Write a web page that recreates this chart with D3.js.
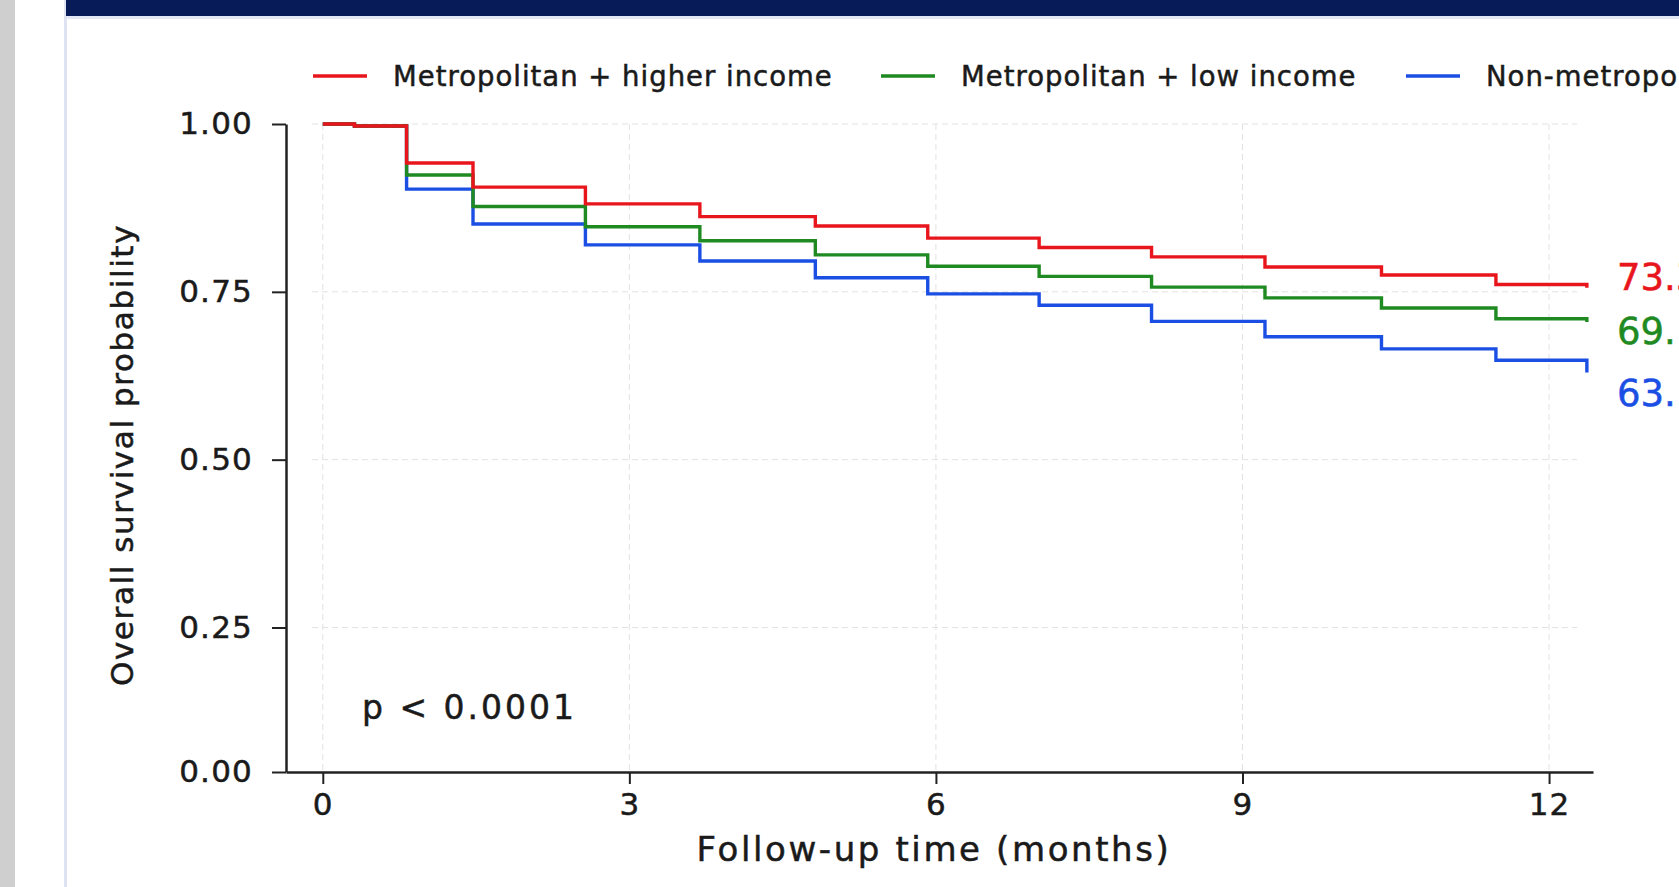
<!DOCTYPE html>
<html>
<head>
<meta charset="utf-8">
<script src="https://cdn.jsdelivr.net/npm/d3@7"></script>
<style>
  html, body { margin: 0; padding: 0; background: #fff; overflow: hidden; }
  #chart { width: 1679px; height: 887px; }
  text { font-family: "DejaVu Sans", Lato, sans-serif; fill: #1a1a1a; }
  .heavy { stroke: currentColor; stroke-width: 0.5px; }
</style>
</head>
<body>
<div id="chart"></div>
<script>
'use strict';

// follow-up times (months) where the curves step
const times = [0, 0.31, 0.82, 1.47, 2.57, 3.69, 4.82, 5.92, 7.01, 8.11, 9.22, 10.36, 11.48, 12.37];

const groups = ["Metropolitan + higher income", "Metropolitan + low income", "Non-metropolitan"];
const colors = ["#e8161c", "#1f8a22", "#1b4fe4"];

const survHigh = [1.0, 0.997, 0.942, 0.906, 0.881, 0.862, 0.848, 0.830, 0.816, 0.802, 0.787, 0.775, 0.761, 0.756];
const survLow = [1.0, 0.997, 0.924, 0.877, 0.847, 0.826, 0.805, 0.788, 0.773, 0.757, 0.741, 0.726, 0.710, 0.705];
const survNonMetro = [1.0, 0.997, 0.903, 0.851, 0.820, 0.796, 0.771, 0.747, 0.730, 0.706, 0.683, 0.665, 0.648, 0.630];

const endLabels = ["73.3%", "69.1%", "63.1%"];

const xTicks = [0, 3, 6, 9, 12];
const yTicks = [0, 0.25, 0.5, 0.75, 1];
const pValue = "p < 0.0001";

const W = 1679, H = 887;
const svg = d3.select("#chart").append("svg")
  .attr("width", W)
  .attr("height", H);

// page furniture: grey strip, card edge and the navy header band
svg.append("rect").attr("x", 0).attr("y", 0).attr("width", 15).attr("height", H).attr("fill", "#cfcfcf");
svg.append("rect").attr("x", 64).attr("y", 0).attr("width", 3).attr("height", H).attr("fill", "#dfe2f3");
svg.append("rect").attr("x", 66).attr("y", 0).attr("width", W - 66).attr("height", 16).attr("fill", "#061b58");
svg.append("rect").attr("x", 66).attr("y", 16).attr("width", W - 66).attr("height", 3).attr("fill", "#e2e8f6");

const x = d3.scaleLinear().domain([-0.36, 12.43]).range([286, 1593]);
// the 0.00 tick sits closer to 0.25 than the others in the original
const y = d3.scaleLinear().domain([0, 0.25, 1]).range([772, 627.5, 124]);

// grid
const grid = svg.append("g").attr("stroke", "#e2e2e2").attr("stroke-width", 1).attr("stroke-dasharray", "6,4");
grid.selectAll(".vgrid").data(xTicks).enter().append("line")
  .attr("x1", d => x(d)).attr("x2", d => x(d))
  .attr("y1", y(1)).attr("y2", y(0));
grid.selectAll(".hgrid").data(yTicks.slice(1)).enter().append("line")
  .attr("x1", 312).attr("x2", 1577)
  .attr("y1", d => y(d)).attr("y2", d => y(d));

// axes
const xAxis = svg.append("g")
  .attr("transform", "translate(0," + y(0) + ")")
  .call(d3.axisBottom(x).tickValues(xTicks).tickSize(12).tickSizeOuter(0).tickPadding(9));
const yAxis = svg.append("g")
  .attr("transform", "translate(" + x(-0.36) + ",0)")
  .call(d3.axisLeft(y).tickValues(yTicks).tickFormat(d3.format(".2f")).tickSize(14).tickSizeOuter(0).tickPadding(19));
[xAxis, yAxis].forEach(function (ax) {
  ax.select(".domain").attr("stroke", "#222").attr("stroke-width", 2.5);
  ax.selectAll(".tick line").attr("stroke", "#222").attr("stroke-width", 2);
  ax.selectAll(".tick text")
    .classed("heavy", true)
    .style("font-size", "31px")
    .style("font-family", "'DejaVu Sans', sans-serif")
    .style("letter-spacing", "1.2px")
    .style("color", "#1a1a1a")
    .attr("fill", "#1a1a1a");
});

svg.append("text")
  .attr("class", "heavy")
  .attr("x", 934).attr("y", 861)
  .attr("text-anchor", "middle")
  .style("font-size", "34px")
  .style("letter-spacing", "2.6px")
  .style("color", "#1a1a1a")
  .text("Follow-up time (months)");

svg.append("text")
  .attr("class", "heavy")
  .attr("transform", "translate(133,455) rotate(-90)")
  .attr("text-anchor", "middle")
  .style("font-size", "31px")
  .style("letter-spacing", "1.6px")
  .style("color", "#1a1a1a")
  .text("Overall survival probability");

svg.append("text")
  .attr("class", "heavy")
  .attr("x", 362).attr("y", 719)
  .style("font-size", "33px")
  .style("letter-spacing", "3px")
  .style("color", "#1a1a1a")
  .text(pValue);

// curves
const series = [survHigh, survLow, survNonMetro];
const line = d3.line()
  .x(d => x(d[0]))
  .y(d => y(d[1]))
  .curve(d3.curveStepAfter);

[2, 1, 0].forEach(function (i) {
  svg.append("path")
    .datum(times.map((t, k) => [t, series[i][k]]))
    .attr("fill", "none")
    .attr("stroke", colors[i])
    .attr("stroke-width", 3.4)
    .attr("d", line);
});

// end-of-curve labels
const labelNudge = [-11, 9, 20];
series.forEach(function (s, i) {
  svg.append("text")
    .attr("class", "heavy")
    .attr("x", 1617)
    .attr("y", y(s[s.length - 1]) + labelNudge[i])
    .attr("dy", "0.36em")
    .style("font-size", "37px")
    .style("fill", colors[i])
    .style("color", colors[i])
    .text(endLabels[i]);
});

// legend
const legendX = [313, 881, 1406];
const legend = svg.append("g");
groups.forEach(function (g, i) {
  legend.append("line")
    .attr("x1", legendX[i]).attr("x2", legendX[i] + 54)
    .attr("y1", 76).attr("y2", 76)
    .attr("stroke", colors[i]).attr("stroke-width", 3.5);
  legend.append("text")
    .attr("class", "heavy")
    .attr("x", legendX[i] + 80).attr("y", 76)
    .attr("dy", "0.36em")
    .style("font-size", "27.5px")
    .style("letter-spacing", "1px")
    .style("color", "#1a1a1a")
    .text(g);
});
</script>
</body>
</html>
